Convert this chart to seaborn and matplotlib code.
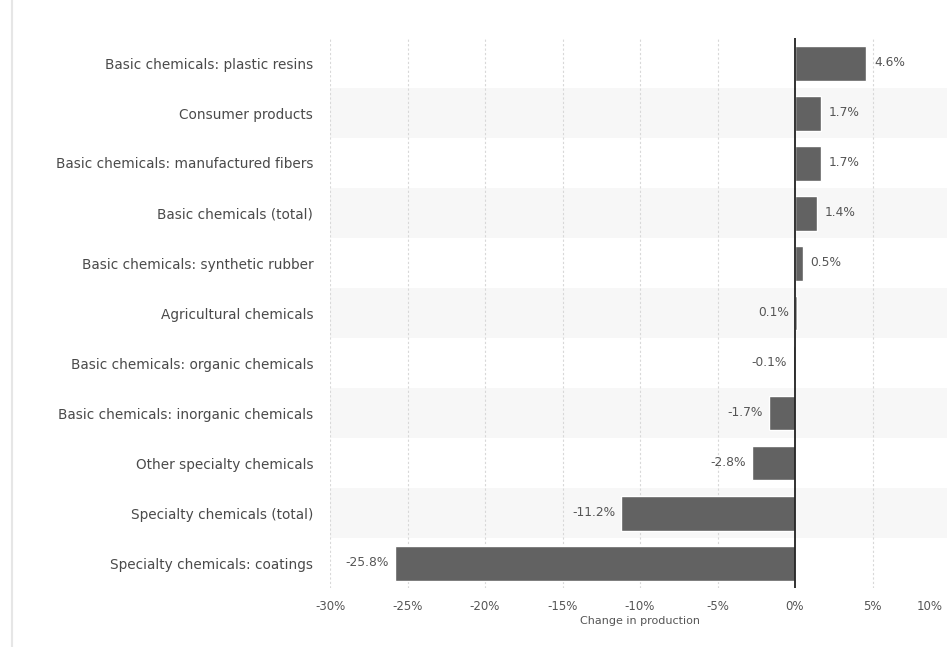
import matplotlib
matplotlib.use("Agg")
import matplotlib.pyplot as plt
import matplotlib.transforms as mtransforms
import seaborn as sns
import pandas as pd

categories = [
    "Basic chemicals: plastic resins",
    "Consumer products",
    "Basic chemicals: manufactured fibers",
    "Basic chemicals (total)",
    "Basic chemicals: synthetic rubber",
    "Agricultural chemicals",
    "Basic chemicals: organic chemicals",
    "Basic chemicals: inorganic chemicals",
    "Other specialty chemicals",
    "Specialty chemicals (total)",
    "Specialty chemicals: coatings",
]
values = [4.6, 1.7, 1.7, 1.4, 0.5, 0.1, -0.1, -1.7, -2.8, -11.2, -25.8]
tick_values = [-30, -25, -20, -15, -10, -5, 0, 5, 10]
tick_labels = ["-30%", "-25%", "-20%", "-15%", "-10%", "-5%", "0%", "5%", "10%"]

df = pd.DataFrame({"category": categories, "value": values})

sns.set_theme(style="white")
plt.rcParams["font.family"] = ["DejaVu Sans"]

fig = plt.figure(figsize=(9.47, 6.47), dpi=100)
ax = fig.add_axes([330 / 947, 1 - 588 / 647, 620 / 947, 550 / 647])

# alternating bands
for i in range(len(categories)):
    if i % 2 == 1:
        ax.axhspan(i - 0.5, i + 0.5, color="#f7f7f7", zorder=0, lw=0)

for t in tick_values:
    if t != 0:
        ax.axvline(t, color="#d8d8d8", lw=0.8, ls=(0, (2, 2)), zorder=1)

sns.barplot(data=df, y="category", x="value", color="#626262", width=0.7,
            saturation=1, ax=ax, zorder=2)

ax.axvline(0, color="#222222", lw=1.3, zorder=3)

for i, v in enumerate(values):
    txt = f"{v:.1f}%"
    if v > 0.2:
        ax.text(v + 0.5, i, txt, va="center", ha="left", fontsize=8.8, color="#555555")
    else:
        ax.text(min(v, 0) - 0.4, i, txt, va="center", ha="right", fontsize=8.8, color="#555555")

ax.set_xlim(-30, 10)
ax.set_ylim(len(categories) - 0.5, -0.5)
ax.set_xticks(tick_values)
ax.set_xticklabels(tick_labels, fontsize=8.5, color="#555555")
ax.tick_params(axis="x", length=0, pad=9)
ax.tick_params(axis="y", length=0, pad=12, labelsize=9.8, labelcolor="#4a4a4a")
last = ax.get_xticklabels()[-1]
last.set_ha("right")
last.set_transform(last.get_transform() +
                   mtransforms.ScaledTranslation(-5 / 72, 0, fig.dpi_scale_trans))
ax.set_ylabel("")
ax.set_xlabel("Change in production", fontsize=8, color="#555555", labelpad=2)
for s in ax.spines.values():
    s.set_visible(False)

# card border line at left
fig.add_artist(plt.Line2D([12 / 947, 12 / 947], [0, 1], color="#e6e6e6", lw=1.5))

fig.savefig("out.png", dpi=100, facecolor="white")
